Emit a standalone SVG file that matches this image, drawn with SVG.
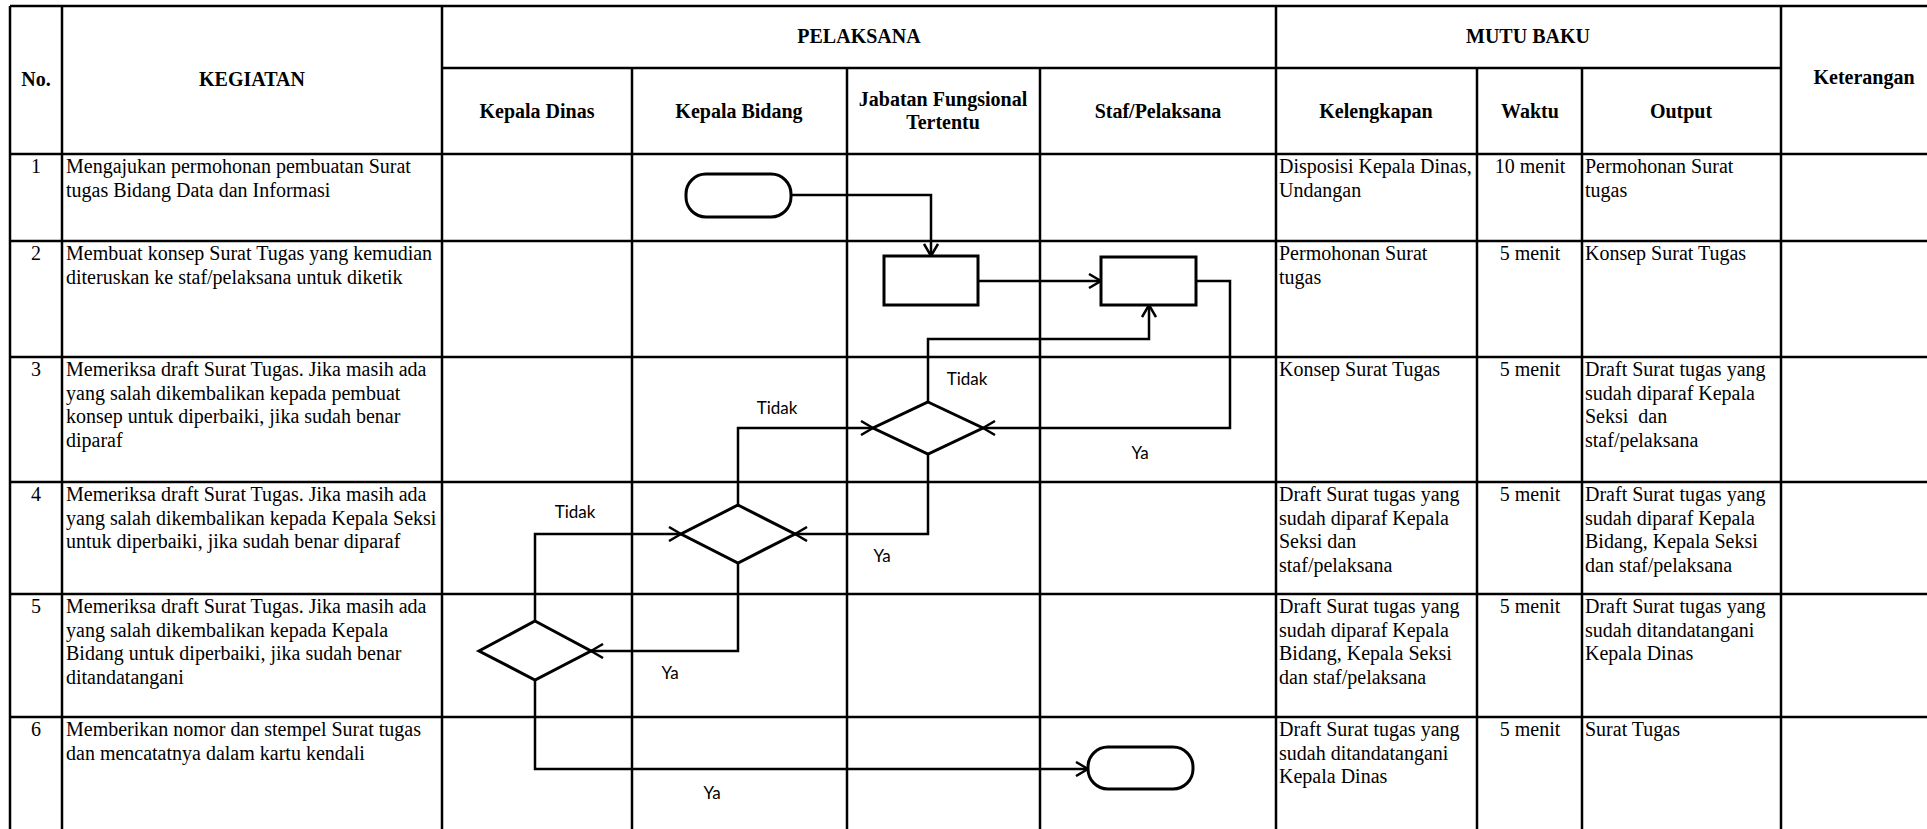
<svg xmlns="http://www.w3.org/2000/svg" width="1927" height="829" viewBox="0 0 1927 829">
<style>
.grid line{stroke:#000;stroke-width:2.5}
.outer{stroke-width:3}
.h{font-family:"Liberation Serif",serif;font-weight:bold;font-size:20px;text-anchor:middle;fill:#000}
.t{font-family:"Liberation Serif",serif;font-size:20px;fill:#000;white-space:pre}
.c{text-anchor:middle}
.lbl{font-family:Lato,"Noto Sans",sans-serif;font-size:17px;text-anchor:middle;fill:#000}
.shape{fill:#fff;stroke:#000;stroke-width:3}
.conn path{fill:none;stroke:#000;stroke-width:2.5;marker-end:url(#arr)}
</style>
<defs>
<marker id="arr" viewBox="0 0 14 16" refX="13" refY="8" markerWidth="14" markerHeight="16" markerUnits="userSpaceOnUse" orient="auto">
<path d="M1,1 L13,8 L1,15" fill="none" stroke="#000" stroke-width="2.5"/>
</marker>
</defs>
<rect x="0" y="0" width="1927" height="829" fill="#fff"/>
<g class="grid" id="table">
<line class="outer" x1="10" y1="6" x2="1927" y2="6"/>
<line class="outer" x1="10" y1="6" x2="10" y2="829"/>
<line x1="62" y1="6" x2="62" y2="829"/>
<line x1="442" y1="6" x2="442" y2="829"/>
<line x1="632" y1="68" x2="632" y2="829"/>
<line x1="847" y1="68" x2="847" y2="829"/>
<line x1="1040" y1="68" x2="1040" y2="829"/>
<line x1="1276" y1="6" x2="1276" y2="829"/>
<line x1="1477" y1="68" x2="1477" y2="829"/>
<line x1="1582" y1="68" x2="1582" y2="829"/>
<line x1="1781" y1="6" x2="1781" y2="829"/>
<line x1="442" y1="68" x2="1781" y2="68"/>
<line x1="10" y1="154" x2="1927" y2="154"/>
<line x1="10" y1="241" x2="1927" y2="241"/>
<line x1="10" y1="357" x2="1927" y2="357"/>
<line x1="10" y1="482" x2="1927" y2="482"/>
<line x1="10" y1="594" x2="1927" y2="594"/>
<line x1="10" y1="717" x2="1927" y2="717"/>
</g>
<g id="headers">
<text class="h" x="36" y="86">No.</text>
<text class="h" x="252" y="86">KEGIATAN</text>
<text class="h" x="859" y="43">PELAKSANA</text>
<text class="h" x="1528" y="43">MUTU BAKU</text>
<text class="h" x="1864" y="84">Keterangan</text>
<text class="h" x="537" y="118">Kepala Dinas</text>
<text class="h" x="739" y="118">Kepala Bidang</text>
<text class="h" x="943" y="106">Jabatan Fungsional</text>
<text class="h" x="943" y="129">Tertentu</text>
<text class="h" x="1158" y="118">Staf/Pelaksana</text>
<text class="h" x="1376" y="118">Kelengkapan</text>
<text class="h" x="1530" y="118">Waktu</text>
<text class="h" x="1681" y="118">Output</text>
</g>
<g id="row1">
<text class="t c" x="36" y="173">1</text>
<text class="t" x="66" y="173">Mengajukan permohonan pembuatan Surat<tspan x="66" dy="23.6">tugas Bidang Data dan Informasi</tspan></text>
<text class="t" x="1279" y="173">Disposisi Kepala Dinas,<tspan x="1279" dy="23.6">Undangan</tspan></text>
<text class="t c" x="1530" y="173">10 menit</text>
<text class="t" x="1585" y="173">Permohonan Surat<tspan x="1585" dy="23.6">tugas</tspan></text>
</g>
<g id="row2">
<text class="t c" x="36" y="260">2</text>
<text class="t" x="66" y="260">Membuat konsep Surat Tugas yang kemudian<tspan x="66" dy="23.6">diteruskan ke staf/pelaksana untuk diketik</tspan></text>
<text class="t" x="1279" y="260">Permohonan Surat<tspan x="1279" dy="23.6">tugas</tspan></text>
<text class="t c" x="1530" y="260">5 menit</text>
<text class="t" x="1585" y="260">Konsep Surat Tugas</text>
</g>
<g id="row3">
<text class="t c" x="36" y="376">3</text>
<text class="t" x="66" y="376">Memeriksa draft Surat Tugas. Jika masih ada<tspan x="66" dy="23.6">yang salah dikembalikan kepada pembuat</tspan><tspan x="66" dy="23.6">konsep untuk diperbaiki, jika sudah benar</tspan><tspan x="66" dy="23.6">diparaf</tspan></text>
<text class="t" x="1279" y="376">Konsep Surat Tugas</text>
<text class="t c" x="1530" y="376">5 menit</text>
<text class="t" x="1585" y="376">Draft Surat tugas yang<tspan x="1585" dy="23.6">sudah diparaf Kepala</tspan><tspan x="1585" dy="23.6">Seksi  dan</tspan><tspan x="1585" dy="23.6">staf/pelaksana</tspan></text>
</g>
<g id="row4">
<text class="t c" x="36" y="501">4</text>
<text class="t" x="66" y="501">Memeriksa draft Surat Tugas. Jika masih ada<tspan x="66" dy="23.6">yang salah dikembalikan kepada Kepala Seksi</tspan><tspan x="66" dy="23.6">untuk diperbaiki, jika sudah benar diparaf</tspan></text>
<text class="t" x="1279" y="501">Draft Surat tugas yang<tspan x="1279" dy="23.6">sudah diparaf Kepala</tspan><tspan x="1279" dy="23.6">Seksi dan</tspan><tspan x="1279" dy="23.6">staf/pelaksana</tspan></text>
<text class="t c" x="1530" y="501">5 menit</text>
<text class="t" x="1585" y="501">Draft Surat tugas yang<tspan x="1585" dy="23.6">sudah diparaf Kepala</tspan><tspan x="1585" dy="23.6">Bidang, Kepala Seksi</tspan><tspan x="1585" dy="23.6">dan staf/pelaksana</tspan></text>
</g>
<g id="row5">
<text class="t c" x="36" y="613">5</text>
<text class="t" x="66" y="613">Memeriksa draft Surat Tugas. Jika masih ada<tspan x="66" dy="23.6">yang salah dikembalikan kepada Kepala</tspan><tspan x="66" dy="23.6">Bidang untuk diperbaiki, jika sudah benar</tspan><tspan x="66" dy="23.6">ditandatangani</tspan></text>
<text class="t" x="1279" y="613">Draft Surat tugas yang<tspan x="1279" dy="23.6">sudah diparaf Kepala</tspan><tspan x="1279" dy="23.6">Bidang, Kepala Seksi</tspan><tspan x="1279" dy="23.6">dan staf/pelaksana</tspan></text>
<text class="t c" x="1530" y="613">5 menit</text>
<text class="t" x="1585" y="613">Draft Surat tugas yang<tspan x="1585" dy="23.6">sudah ditandatangani</tspan><tspan x="1585" dy="23.6">Kepala Dinas</tspan></text>
</g>
<g id="row6">
<text class="t c" x="36" y="736">6</text>
<text class="t" x="66" y="736">Memberikan nomor dan stempel Surat tugas<tspan x="66" dy="23.6">dan mencatatnya dalam kartu kendali</tspan></text>
<text class="t" x="1279" y="736">Draft Surat tugas yang<tspan x="1279" dy="23.6">sudah ditandatangani</tspan><tspan x="1279" dy="23.6">Kepala Dinas</tspan></text>
<text class="t c" x="1530" y="736">5 menit</text>
<text class="t" x="1585" y="736">Surat Tugas</text>
</g>
<g id="start"><rect class="shape" x="686" y="174" width="105" height="43" rx="20" ry="20"/></g>
<g id="proc1"><rect class="shape" x="884" y="256" width="94" height="49"/></g>
<g id="proc2"><rect class="shape" x="1101" y="257" width="95" height="48"/></g>
<g id="dec1"><polygon class="shape" points="928,402 983,428 928,454 873,428"/></g>
<g id="dec2"><polygon class="shape" points="738,505 795,534 738,563 681,534"/></g>
<g id="dec3"><polygon class="shape" points="535,621 591,651 535,680 479,651"/></g>
<g id="end"><rect class="shape" x="1088" y="747" width="105" height="42" rx="20" ry="20"/></g>
<g class="conn" id="connectors">
<path d="M791,195 H931 V256"/>
<path d="M978,281 H1101"/>
<path d="M1196,281 H1230 V428 H983"/>
<path d="M928,402 V339 H1149 V305"/>
<path d="M738,505 V428 H873"/>
<path d="M928,454 V534 H795"/>
<path d="M535,621 V534 H681"/>
<path d="M738,563 V651 H591"/>
<path d="M535,680 V769 H1088"/>
</g>
<g id="labels">
<text class="lbl" x="967" y="385">Tidak</text>
<text class="lbl" x="777" y="414">Tidak</text>
<text class="lbl" x="575" y="518">Tidak</text>
<text class="lbl" x="1140" y="459">Ya</text>
<text class="lbl" x="882" y="562">Ya</text>
<text class="lbl" x="670" y="679">Ya</text>
<text class="lbl" x="712" y="799">Ya</text>
</g>
</svg>
